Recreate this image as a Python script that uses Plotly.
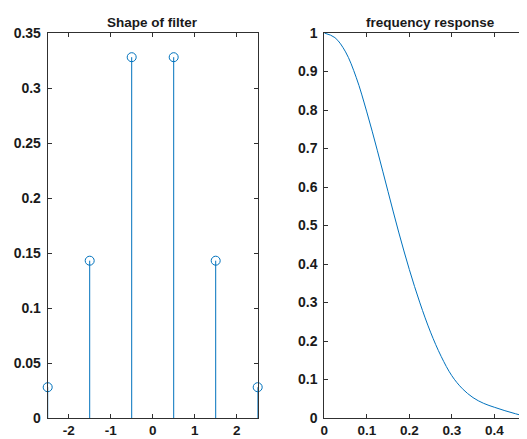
import plotly.graph_objects as go

# ---- data ----
tap_positions = [-2.5, -1.5, -0.5, 0.5, 1.5, 2.5]
tap_values = [0.028, 0.143, 0.328, 0.328, 0.143, 0.028]

freq = [0, 0.025, 0.05, 0.075, 0.1, 0.125, 0.15, 0.175, 0.2, 0.225, 0.25,
        0.275, 0.3, 0.325, 0.35, 0.375, 0.4, 0.425, 0.45, 0.475, 0.5]
response = [1.0, 0.988, 0.951, 0.885, 0.795, 0.694, 0.588, 0.483, 0.386, 0.299, 0.223,
            0.160, 0.110, 0.076, 0.053, 0.038, 0.028, 0.019, 0.011, 0.004, 0.0]

left_xticks = [-2, -1, 0, 1, 2]
left_xticktext = ["-2", "-1", "0", "1", "2"]
left_yticks = [0, 0.05, 0.1, 0.15, 0.2, 0.25, 0.3, 0.35]
left_yticktext = ["0", "0.05", "0.1", "0.15", "0.2", "0.25", "0.3", "0.35"]
right_xticks = [0, 0.1, 0.2, 0.3, 0.4, 0.5]
right_xticktext = ["0", "0.1", "0.2", "0.3", "0.4", "0.5"]
right_yticks = [0, 0.1, 0.2, 0.3, 0.4, 0.5, 0.6, 0.7, 0.8, 0.9, 1]
right_yticktext = ["0", "0.1", "0.2", "0.3", "0.4", "0.5", "0.6", "0.7", "0.8", "0.9", "1"]

BLUE = "#0072BD"
AX = "#303030"
W, H = 527, 439
OFF = 8  # page body margin offset (px)


def fx(px):
    return (px - OFF) / W


def fy(py):
    return 1 - (py - OFF) / H


# stems built from the data
stem_x, stem_y = [], []
for xv, yv in zip(tap_positions, tap_values):
    stem_x += [xv, xv, None]
    stem_y += [0, yv, None]

fig = go.Figure()
fig.add_trace(go.Scatter(x=stem_x, y=stem_y, mode="lines",
                         line=dict(color=BLUE, width=1), xaxis="x", yaxis="y",
                         hoverinfo="skip", showlegend=False))
fig.add_trace(go.Scatter(x=tap_positions, y=tap_values, mode="markers",
                         marker=dict(symbol="circle-open", size=9, color=BLUE,
                                     line=dict(width=1, color=BLUE)),
                         cliponaxis=False, xaxis="x", yaxis="y", showlegend=False))
fig.add_trace(go.Scatter(x=freq, y=response, mode="lines", line_shape="spline",
                         line=dict(color=BLUE, width=1), xaxis="x2", yaxis="y2",
                         showlegend=False))

FONT = "Liberation Sans, Arial, sans-serif"
tickfont = dict(family=FONT, size=14, color="#1a1a1a", weight="bold")
xtickfont = dict(family=FONT, size=13.5, color="#1a1a1a", weight="bold")
common = dict(showgrid=False, zeroline=False, showline=True, linecolor=AX, linewidth=1,
              ticks="inside", ticklen=4, tickcolor=AX, tickwidth=1,
              automargin=False)

yd = [fy(418), fy(33)]
fig.update_layout(
    width=W, height=H, margin=dict(l=0, r=0, t=0, b=0, pad=0),
    paper_bgcolor="white", plot_bgcolor="white",
    xaxis=dict(domain=[fx(47.7), fx(257.7)], range=[-2.5, 2.5], mirror="ticks",
               tickmode="array", tickvals=left_xticks, ticktext=left_xticktext,
               anchor="y", ticklabelstandoff=0, tickfont=xtickfont, **common),
    yaxis=dict(domain=yd, range=[0, 0.35], mirror="ticks",
               tickmode="array", tickvals=left_yticks, ticktext=left_yticktext,
               anchor="x", ticklabelstandoff=3, tickfont=tickfont, **common),
    xaxis2=dict(domain=[fx(324.3), fx(527)], range=[0, 0.477], mirror="ticks",
                tickmode="array", tickvals=right_xticks, ticktext=right_xticktext,
                anchor="y2", ticklabelstandoff=0, tickfont=xtickfont, **common),
    yaxis2=dict(domain=yd, range=[0, 1], mirror=False,
                tickmode="array", tickvals=right_yticks, ticktext=right_yticktext,
                anchor="x2", ticklabelstandoff=3, tickfont=tickfont, **common),
    annotations=[
        dict(text="Shape of filter", x=fx(152.7), y=fy(23), xref="paper", yref="paper",
             showarrow=False, xanchor="center", yanchor="middle",
             font=dict(family=FONT, size=13.5, color="#1a1a1a", weight="bold")),
        dict(text="frequency response", x=fx(430), y=fy(23), xref="paper", yref="paper",
             showarrow=False, xanchor="center", yanchor="middle",
             font=dict(family=FONT, size=13.5, color="#1a1a1a", weight="bold")),
    ],
)

fig.write_html("out.html")
